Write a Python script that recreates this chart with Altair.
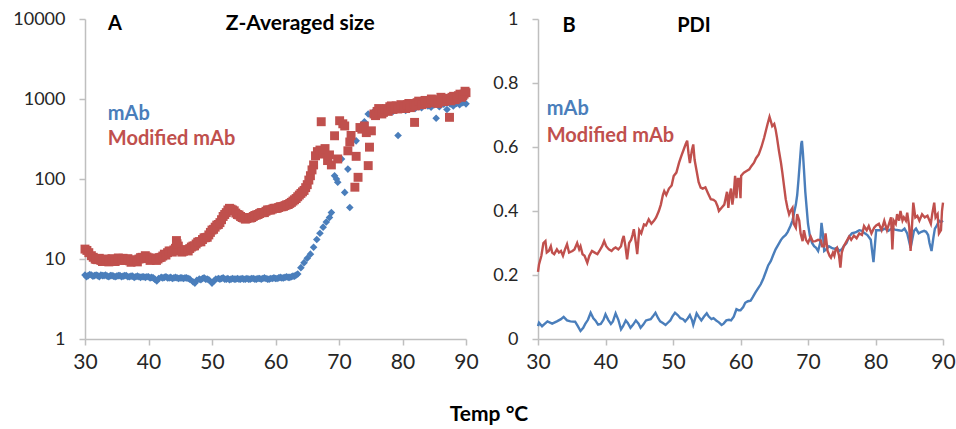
import altair as alt
import pandas as pd

BLUE = "#4a7ebb"
RED = "#c0504d"
AXIS = "#bfbfbf"
LAB = "#262626"
FONT = "Lato"

# Panel A: Z-averaged size (d.nm), log scale
A_MAB = [(30, 6.3), (30.5, 6.2), (31, 6.3), (31.5, 6.2), (32, 6.2), (32.5, 6.3), (33, 6.2), (33.5, 6.1),
         (34, 6.2), (34.5, 6.1), (35, 6.1), (35.5, 6.2), (36, 6.1), (36.5, 6.2), (37, 6.0), (37.5, 6.1),
         (38, 6.0), (38.5, 6.0), (39, 6.0), (39.5, 5.9), (40, 6.0), (40.5, 5.9), (41, 5.6), (41.3, 5.3),
         (41.6, 5.7), (42, 5.9), (42.5, 5.9), (43, 5.8), (43.5, 5.9), (44, 5.8), (44.5, 5.8), (45, 5.8),
         (45.5, 5.7), (46, 5.8), (46.5, 5.6), (47, 5.2), (47.3, 5.0), (47.6, 5.4), (48, 5.6), (48.5, 5.7),
         (49, 5.6), (49.5, 5.5), (50, 5.0), (50.3, 5.3), (50.6, 5.6), (51, 5.7), (51.5, 5.7), (52, 5.6),
         (52.5, 5.7), (53, 5.6), (53.5, 5.6), (54, 5.7), (54.5, 5.6), (55, 5.6), (55.5, 5.7), (56, 5.6),
         (56.5, 5.7), (57, 5.6), (57.5, 5.7), (58, 5.7), (58.5, 5.7), (59, 5.6), (59.5, 5.7), (60, 5.7),
         (60.5, 5.8), (61, 5.8), (61.5, 5.9), (62, 5.9), (62.5, 6.0), (63, 6.1), (63.5, 6.5), (64, 7.8),
         (64.5, 9.0), (65, 10.2), (65.5, 11.5), (66, 14), (66.5, 17.5), (67, 21), (67.5, 25), (68, 29),
         (68.5, 33), (68.8, 38), (69.3, 110), (69.6, 100), (69.8, 91), (70.4, 178), (70.9, 68), (71.4, 133),
         (71.7, 44), (72.7, 300), (73.5, 420), (74, 520), (74.6, 650), (75, 640), (75.5, 700), (76, 620),
         (76.5, 700), (77, 680), (77.5, 720), (78, 750), (78.5, 700), (79, 760), (79.3, 350), (80, 800),
         (80.5, 720), (81, 780), (81.5, 820), (82, 760), (82.5, 800), (83, 780), (83.5, 850), (84, 820),
         (84.5, 790), (85, 850), (85.3, 575), (85.8, 800), (86.5, 860), (87, 740), (87.5, 870), (88, 820),
         (88.5, 880), (89, 850), (89.5, 900), (90, 870)]
A_MAB_MORE = [(30.25, 6.0), (30.75, 6.4), (31.25, 6.1), (31.75, 6.3), (32.25, 6.0), (32.75, 6.2), (33.25, 6.3),
              (33.75, 6.0), (34.25, 6.2), (34.75, 6.0), (35.25, 6.2), (35.75, 6.0), (36.25, 6.2), (36.75, 6.0),
              (37.25, 6.1), (37.75, 5.9), (38.25, 6.1), (38.75, 5.9), (39.25, 6.0), (39.75, 6.0), (40.25, 5.8),
              (40.75, 5.8), (42.25, 5.8), (42.75, 6.0), (43.25, 5.8), (43.75, 5.7), (44.25, 5.9), (44.75, 5.7),
              (45.25, 5.8), (45.75, 5.8), (46.25, 5.7), (48.25, 5.5), (48.75, 5.8), (49.25, 5.6), (51.25, 5.6),
              (51.75, 5.8), (52.25, 5.6), (52.75, 5.5), (53.25, 5.7), (53.75, 5.6), (54.25, 5.6), (54.75, 5.7),
              (55.25, 5.6), (55.75, 5.6), (56.25, 5.7), (56.75, 5.6), (57.25, 5.7), (57.75, 5.6), (58.25, 5.8),
              (58.75, 5.6), (59.25, 5.7), (59.75, 5.8), (60.25, 5.7), (60.75, 5.9), (61.25, 5.8), (61.75, 6.0),
              (62.25, 5.9), (62.75, 6.1), (63.25, 6.3)]

A_MOD = [(30, 13.3), (30.3, 12.8), (30.6, 12.0), (31, 11.0), (31.3, 10.5), (31.6, 10.0), (32, 9.8),
         (32.5, 9.6), (33, 9.7), (33.5, 9.5), (34, 9.6), (34.5, 9.7), (35, 9.8), (35.5, 10.0), (36, 10.2),
         (36.5, 9.8), (37, 9.5), (37.5, 9.3), (38, 9.5), (38.5, 10.0), (39, 10.5), (39.5, 11.0), (40, 10.3),
         (40.5, 9.9), (41, 9.8), (41.5, 10.0), (42, 10.5), (42.5, 11.5), (43, 12.0), (43.5, 12.5), (44, 13.0),
         (44.4, 17.0), (44.7, 14.5), (45, 12.7), (45.5, 12.5), (46, 13.0), (46.5, 13.5), (47, 14.5),
         (47.5, 15.4), (48, 16.5), (48.5, 17.5), (49, 18.5), (49.5, 20), (50, 23), (50.5, 25), (51, 27),
         (51.5, 31), (52, 36), (52.5, 41), (53, 42), (53.5, 40), (54, 36), (54.5, 34), (55, 32.5), (55.5, 32),
         (56, 32.5), (56.5, 34), (57, 35.5), (57.5, 37), (58, 38), (58.5, 39.5), (59, 41), (59.5, 42),
         (60, 43), (60.5, 44), (61, 45), (61.5, 46.5), (62, 48), (62.5, 51), (63, 55), (63.5, 60), (64, 66),
         (64.5, 72), (65, 85), (65.5, 110), (66, 150), (66.3, 195), (66.6, 220), (67, 230), (67.2, 520),
         (67.5, 205), (67.8, 240), (68.2, 170), (68.5, 200), (68.8, 150), (69.3, 347), (69.8, 178),
         (70.1, 535), (70.6, 490), (70.9, 460), (71.4, 225), (71.7, 290), (71.9, 350), (72.5, 79),
         (72.7, 192), (73.0, 105), (73.3, 440), (73.6, 420), (74.0, 460), (74.3, 380), (74.6, 147),
         (74.8, 250), (75.1, 400), (75.5, 650), (76, 700), (76.5, 720), (77, 680), (77.5, 760), (78, 800),
         (78.5, 740), (79, 820), (79.5, 780), (80, 830), (80.5, 760), (81, 880), (81.5, 820), (81.9, 510),
         (82.3, 900), (82.8, 860), (83.3, 920), (83.8, 880), (84.3, 950), (84.8, 900), (85.3, 980),
         (85.8, 920), (86.3, 1000), (86.8, 960), (87.4, 590), (87.8, 1050), (88.3, 980), (88.8, 1100),
         (89.3, 1050), (89.7, 1150), (90, 1200)]
A_MOD_MORE = [(31.75, 9.9), (32.25, 10.2), (32.75, 9.3), (33.25, 10.0), (33.75, 9.2), (34.25, 10.1), (34.75, 9.3),
              (35.25, 10.3), (35.75, 9.6), (36.25, 9.6), (36.75, 10.1), (37.25, 9.1), (37.75, 9.8), (38.25, 9.2),
              (38.75, 10.4), (39.25, 10.1), (39.75, 10.6), (40.25, 9.6), (40.75, 10.3), (41.25, 9.6),
              (41.75, 10.4), (42.25, 10.9), (42.75, 11.2), (43.25, 12.6), (43.75, 12.2), (44.25, 13.6),
              (44.5, 15.5), (45.25, 12.2), (45.75, 13.1), (46.25, 12.6), (46.75, 14.1), (47.25, 14.6),
              (47.75, 16.2), (48.25, 16.4), (48.75, 18.4), (49.25, 18.7), (49.75, 21.5), (50.25, 23.5),
              (50.75, 26.5), (51.25, 28.5), (51.75, 34), (52.25, 38), (52.75, 43), (53.25, 41), (53.75, 37.5),
              (54.25, 35.5), (54.75, 33), (55.25, 31.5), (55.75, 33), (56.25, 33), (56.75, 35), (57.25, 36),
              (57.75, 38), (58.25, 38), (58.75, 41), (59.25, 41), (59.75, 43), (60.25, 43), (60.75, 45),
              (61.25, 45.5), (61.75, 47.5), (62.25, 49.5), (62.75, 53), (63.25, 57), (63.75, 63), (64.25, 69),
              (64.75, 78), (65.25, 97), (65.75, 130), (75.75, 620), (76.25, 760), (76.75, 650), (77.25, 740),
              (77.75, 700), (78.25, 820), (78.75, 780), (79.25, 750), (79.75, 850), (80.25, 790), (80.75, 850),
              (81.25, 780), (81.75, 860), (82.05, 820), (82.55, 940), (83.05, 850), (83.55, 960), (84.05, 900),
              (84.55, 1000), (85.05, 950), (85.55, 880), (86.05, 1050), (86.55, 930), (87.05, 1020),
              (87.6, 950), (88.05, 1080), (88.55, 1020), (89.05, 1150), (89.5, 1100), (89.85, 1250)]

# Panel B: PDI
B_MAB = [(30.0, 0.04), (30.15, 0.051), (30.6, 0.04), (31.4, 0.055), (32.1, 0.048), (32.8, 0.055),
         (33.4, 0.062), (33.8, 0.069), (34.3, 0.058), (34.8, 0.055), (35.5, 0.054), (35.9, 0.04),
         (36.3, 0.025), (36.7, 0.035), (37.0, 0.047), (37.4, 0.06), (37.8, 0.082), (38.2, 0.065),
         (38.5, 0.058), (38.9, 0.045), (39.3, 0.047), (39.7, 0.06), (40.0, 0.077), (40.4, 0.06),
         (40.8, 0.047), (41.1, 0.055), (41.5, 0.08), (41.9, 0.06), (42.3, 0.03), (42.6, 0.04), (43.0, 0.058),
         (43.3, 0.05), (43.7, 0.035), (44.1, 0.045), (44.5, 0.058), (44.9, 0.048), (45.2, 0.035),
         (45.6, 0.045), (46.0, 0.058), (46.3, 0.06), (46.7, 0.062), (47.0, 0.07), (47.4, 0.082),
         (47.8, 0.065), (48.1, 0.055), (48.5, 0.05), (48.9, 0.044), (49.2, 0.05), (49.6, 0.058), (49.9, 0.07),
         (50.3, 0.082), (50.7, 0.075), (51.1, 0.065), (51.5, 0.062), (51.8, 0.055), (52.2, 0.065),
         (52.5, 0.075), (52.8, 0.06), (53.0, 0.044), (53.3, 0.065), (53.5, 0.08), (53.8, 0.07), (54.2, 0.058),
         (54.6, 0.07), (55.0, 0.08), (55.3, 0.07), (55.7, 0.062), (56.0, 0.065), (56.4, 0.058), (56.8, 0.052),
         (57.2, 0.044), (57.5, 0.048), (57.9, 0.058), (58.3, 0.06), (58.6, 0.058), (59.0, 0.07),
         (59.4, 0.093), (59.7, 0.09), (60.0, 0.09), (60.4, 0.1), (60.7, 0.113), (61.1, 0.118), (61.5, 0.12),
         (61.8, 0.13), (62.2, 0.145), (62.6, 0.158), (63.0, 0.171), (63.4, 0.19), (63.8, 0.2125),
         (64.1, 0.23), (64.5, 0.244), (64.8, 0.26), (65.2, 0.28), (65.6, 0.295), (66.0, 0.31), (66.3, 0.318),
         (66.7, 0.325), (67.0, 0.335), (67.4, 0.353), (67.7, 0.37), (67.9, 0.39), (68.2, 0.42), (68.4, 0.45),
         (68.6, 0.5), (68.8, 0.556), (69.0, 0.61), (69.1, 0.619), (69.25, 0.58), (69.4, 0.53), (69.6, 0.46),
         (69.8, 0.41), (70.0, 0.36), (70.3, 0.32), (70.6, 0.3), (70.9, 0.29), (71.2, 0.285), (71.5, 0.275),
         (71.8, 0.3), (72.0, 0.363), (72.2, 0.33), (72.4, 0.275), (72.7, 0.28), (73.1, 0.29), (73.5, 0.285),
         (73.9, 0.282), (74.3, 0.285), (74.6, 0.275), (75.0, 0.28), (75.3, 0.29), (75.7, 0.3), (76.1, 0.32),
         (76.5, 0.33), (76.8, 0.332), (77.2, 0.335), (77.6, 0.34), (78.0, 0.338), (78.3, 0.332),
         (78.8, 0.325), (79.3, 0.31), (79.7, 0.24), (80.1, 0.34), (80.5, 0.34), (80.9, 0.34), (81.4, 0.345),
         (81.9, 0.338), (82.4, 0.345), (82.9, 0.342), (83.4, 0.34), (83.9, 0.338), (84.3, 0.345),
         (84.7, 0.33), (85.2, 0.285), (85.7, 0.338), (86.0, 0.345), (86.4, 0.33), (86.8, 0.335),
         (87.2, 0.338), (87.5, 0.335), (87.8, 0.325), (88.0, 0.3), (88.3, 0.275), (88.6, 0.32), (88.8, 0.345),
         (89.1, 0.355), (89.4, 0.37), (89.7, 0.365), (90.0, 0.37)]

B_MOD = [(30.0, 0.21), (30.15, 0.233), (30.5, 0.26), (30.8, 0.30), (31.1, 0.306), (31.3, 0.27),
         (31.6, 0.275), (31.9, 0.29), (32.1, 0.27), (32.4, 0.265), (32.8, 0.28), (33.1, 0.27), (33.4, 0.275),
         (33.7, 0.26), (34.0, 0.28), (34.3, 0.296), (34.6, 0.27), (35.1, 0.275), (35.4, 0.28), (35.8, 0.30),
         (36.1, 0.28), (36.3, 0.29), (36.6, 0.265), (36.9, 0.26), (37.3, 0.238), (37.6, 0.26), (38.0, 0.275),
         (38.4, 0.27), (38.8, 0.265), (39.1, 0.275), (39.5, 0.29), (39.8, 0.306), (40.1, 0.29), (40.5, 0.28),
         (40.9, 0.275), (41.2, 0.282), (41.5, 0.286), (41.9, 0.28), (42.3, 0.29), (42.5, 0.31), (42.7, 0.322),
         (42.95, 0.29), (43.2, 0.249), (43.5, 0.3), (43.8, 0.31), (44.0, 0.325), (44.2, 0.343), (44.5, 0.3),
         (44.7, 0.265), (45.0, 0.34), (45.3, 0.33), (45.7, 0.358), (46.0, 0.355), (46.4, 0.374), (46.8, 0.36),
         (47.2, 0.37), (47.5, 0.38), (47.9, 0.40), (48.2, 0.42), (48.5, 0.45), (48.7, 0.4625), (49.0, 0.45),
         (49.4, 0.47), (49.8, 0.48), (50.1, 0.509), (50.5, 0.52), (50.9, 0.551), (51.2, 0.57), (51.6, 0.593),
         (51.9, 0.61), (52.1, 0.62), (52.3, 0.58), (52.5, 0.55), (52.8, 0.59), (53.0, 0.608), (53.2, 0.56),
         (53.5, 0.525), (53.8, 0.49), (54.1, 0.473), (54.4, 0.47), (54.8, 0.474), (55.2, 0.455),
         (55.6, 0.437), (56.0, 0.435), (56.3, 0.43), (56.6, 0.415), (56.8, 0.40), (57.2, 0.41), (57.6, 0.42),
         (57.8, 0.44), (58.0, 0.46), (58.2, 0.41), (58.4, 0.45), (58.6, 0.47), (58.8, 0.42), (59.0, 0.452),
         (59.2, 0.51), (59.4, 0.44), (59.6, 0.50), (59.8, 0.5), (60.0, 0.44), (60.1, 0.51), (60.5, 0.52),
         (60.9, 0.525), (61.3, 0.53), (61.6, 0.54), (62.0, 0.551), (62.3, 0.565), (62.7, 0.577), (63.1, 0.60),
         (63.5, 0.629), (64.0, 0.671), (64.3, 0.694), (64.5, 0.68), (64.7, 0.665), (65.0, 0.672),
         (65.2, 0.655), (65.4, 0.63), (65.7, 0.5875), (66.0, 0.55), (66.2, 0.52), (66.5, 0.47), (66.7, 0.437),
         (66.95, 0.41), (67.2, 0.39), (67.4, 0.40), (67.7, 0.41), (67.9, 0.36), (68.2, 0.348), (68.4, 0.39),
         (68.7, 0.37), (68.9, 0.33), (69.2, 0.306), (69.4, 0.34), (69.7, 0.31), (70.0, 0.30), (70.4, 0.32),
         (70.7, 0.305), (71.1, 0.306), (71.5, 0.31), (71.9, 0.308), (72.1, 0.29), (72.4, 0.29), (72.6, 0.33),
         (72.9, 0.275), (73.2, 0.26), (73.4, 0.254), (73.7, 0.27), (73.9, 0.26), (74.1, 0.28), (74.3, 0.285),
         (74.6, 0.26), (74.8, 0.223), (75.0, 0.27), (75.3, 0.29), (75.7, 0.305), (76.1, 0.32), (76.4, 0.31),
         (76.8, 0.323), (77.2, 0.315), (77.6, 0.33), (78.0, 0.325), (78.3, 0.353), (78.7, 0.34),
         (79.0, 0.353), (79.4, 0.33), (79.8, 0.348), (80.1, 0.355), (80.5, 0.36), (80.9, 0.34), (81.3, 0.369),
         (81.7, 0.34), (82.0, 0.36), (82.3, 0.38), (82.5, 0.28), (82.7, 0.37), (83.0, 0.36), (83.2, 0.39),
         (83.5, 0.37), (83.7, 0.40), (84.0, 0.37), (84.2, 0.38), (84.5, 0.37), (84.7, 0.395), (85.0, 0.35),
         (85.2, 0.275), (85.4, 0.35), (85.6, 0.426), (85.9, 0.38), (86.2, 0.385), (86.5, 0.37), (86.9, 0.39),
         (87.3, 0.38), (87.7, 0.385), (88.0, 0.37), (88.2, 0.36), (88.4, 0.39), (88.7, 0.426), (88.9, 0.38),
         (89.2, 0.39), (89.4, 0.33), (89.7, 0.34), (89.85, 0.40), (90.0, 0.426)]

X_TICKS = [30, 40, 50, 60, 70, 80, 90]
A_YTICKS = [1, 10, 100, 1000, 10000]
B_YTICKS = [0, 0.2, 0.4, 0.6, 0.8, 1]

# annotation texts with their anchor points in data units
A_NOTES = [("A", 34.7, 8700, "#000000", "center", 20), ("Z-Averaged size", 63.9, 8700, "#000000", "center", 21),
           ("mAb", 33.6, 650, BLUE, "left", 20), ("Modified mAb", 33.6, 316, RED, "left", 20)]
B_NOTES = [("B", 34.6, 0.978, "#000000", "center", 20), ("PDI", 53.1, 0.978, "#000000", "center", 20),
           ("mAb", 31.3, 0.719, BLUE, "left", 20), ("Modified mAb", 31.3, 0.634, RED, "left", 20)]


def frame(pairs):
    return pd.DataFrame(pairs, columns=["t", "v"])


def xaxis():
    return alt.X("t:Q", scale=alt.Scale(domain=[30, 90], nice=False), title=None,
                 axis=alt.Axis(values=X_TICKS, grid=False, domainColor=AXIS, tickColor=AXIS,
                               domainWidth=1.5, tickWidth=1.5, tickSize=6, labelFontSize=21,
                               labelColor=LAB, labelFont=FONT, labelPadding=6, labelFlush=False))


def notes(rows, ytype_scale):
    layers = []
    for txt, tx, ty, col, al, fs in rows:
        layers.append(
            alt.Chart(pd.DataFrame({"t": [tx], "v": [ty], "s": [txt]}))
            .mark_text(font=FONT, fontSize=fs, fontWeight="bold", color=col, align=al, baseline="middle")
            .encode(x=alt.X("t:Q", scale=alt.Scale(domain=[30, 90], nice=False)),
                    y=alt.Y("v:Q", scale=ytype_scale), text="s:N")
        )
    return layers


a_scale = alt.Scale(type="log", domain=[1, 10000], nice=False)
a_y = alt.Y("v:Q", scale=a_scale, title=None,
            axis=alt.Axis(values=A_YTICKS, grid=False, domainColor=AXIS, tickColor=AXIS, domainWidth=1.5,
                          tickWidth=1.5, tickSize=6, labelFontSize=18, labelColor=LAB, labelFont=FONT,
                          labelPadding=14, format="d"))

a_blue = alt.Chart(frame(A_MAB + A_MAB_MORE)).mark_point(shape="diamond", filled=True, size=58, color=BLUE,
                                                          opacity=1).encode(x=xaxis(), y=a_y)
a_red = alt.Chart(frame(A_MOD + A_MOD_MORE)).mark_point(shape="square", filled=True, size=80, color=RED,
                                                         opacity=1).encode(x=xaxis(), y=a_y)
chart_a = alt.layer(a_blue, a_red, *notes(A_NOTES, a_scale)).properties(width=381, height=320)

b_scale = alt.Scale(domain=[0, 1], nice=False)
b_y = alt.Y("v:Q", scale=b_scale, title=None,
            axis=alt.Axis(values=B_YTICKS, grid=False, domainColor=AXIS, tickColor=AXIS, domainWidth=1.5,
                          tickWidth=1.5, tickSize=6, labelFontSize=18, labelColor=LAB, labelFont=FONT,
                          labelPadding=14,
                          labelExpr="datum.value == 0 ? '0' : datum.value == 1 ? '1' : format(datum.value, '.1f')"))

b_blue = alt.Chart(frame(B_MAB)).mark_line(color=BLUE, strokeWidth=2.4).encode(x=xaxis(), y=b_y)
b_red = alt.Chart(frame(B_MOD)).mark_line(color=RED, strokeWidth=2.4).encode(x=xaxis(), y=b_y)
chart_b = alt.layer(b_blue, b_red, *notes(B_NOTES, b_scale)).properties(width=405, height=320)

chart = (
    alt.hconcat(chart_a, chart_b, spacing=13)
    .properties(
        title=alt.TitleParams("Temp °C", orient="bottom", anchor="middle", font=FONT, fontSize=21,
                              fontWeight="bold", color="#000000", offset=32, dx=5),
        padding={"left": 12, "top": 10, "right": 0, "bottom": 0},
        background="white",
    )
    .configure_view(stroke=None)
)

chart.save("out.html", embed_options={"renderer": "svg", "actions": False})
